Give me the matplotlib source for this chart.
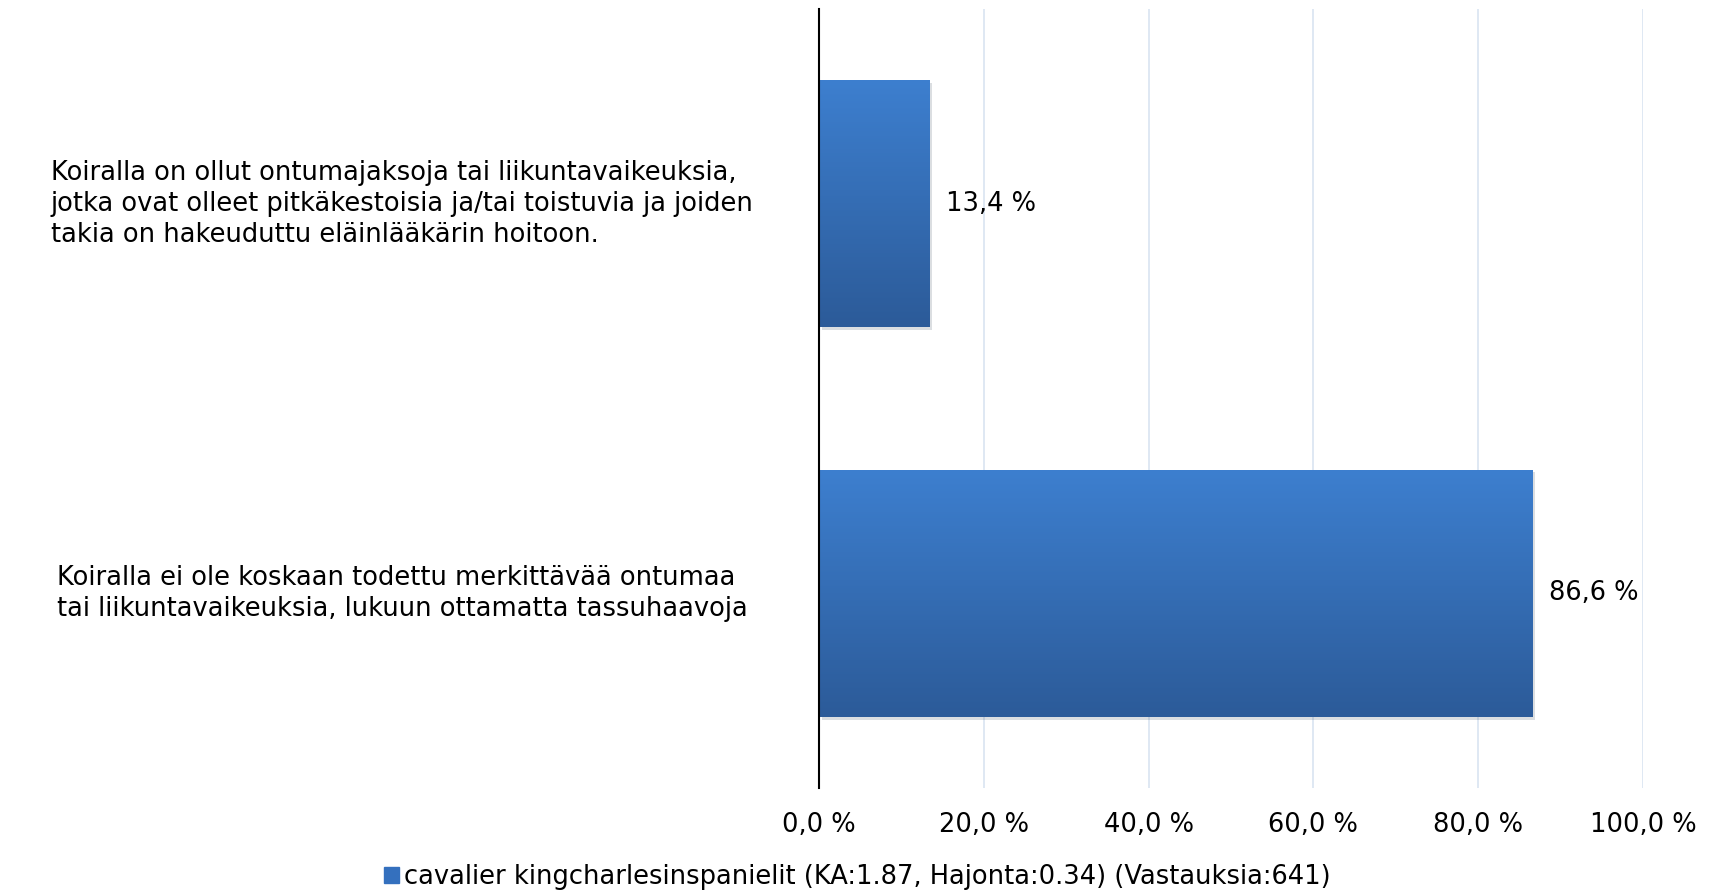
import matplotlib.pyplot as plt
import matplotlib.patheffects as pe
import numpy as np
from matplotlib.colors import LinearSegmentedColormap
from matplotlib.patches import Patch

plt.rcParams['font.family'] = ['DejaVu Sans']

categories = ['Koiralla on ollut ontumajaksoja tai liikuntavaikeuksia,\n'
              'jotka ovat olleet pitkäkestoisia ja/tai toistuvia ja joiden\n'
              'takia on hakeuduttu eläinlääkärin hoitoon.',
              'Koiralla ei ole koskaan todettu merkittävää ontumaa\n'
              'tai liikuntavaikeuksia, lukuun ottamatta tassuhaavoja']
values = [13.4, 86.6]
ticks = [0, 20, 40, 60, 80, 100]
tick_labels = ['0,0 %', '20,0 %', '40,0 %', '60,0 %', '80,0 %', '100,0 %']
series_name = 'cavalier kingcharlesinspanielit (KA:1.87, Hajonta:0.34) (Vastauksia:641)'

fig = plt.figure(figsize=(17.15, 8.93), dpi=100)
ax = fig.add_axes([0.4776, 0.1176, 0.4804, 0.8724])

grad = LinearSegmentedColormap.from_list('g', ['#3d7fcf', '#2c5b99'])
y = np.arange(len(values))
bars = ax.barh(y, values, height=0.635, color='#3470be',
               path_effects=[pe.SimplePatchShadow(offset=(2, -2), alpha=0.15), pe.Normal()],
               zorder=2)
for b in bars:
    x0, y0 = b.get_x(), b.get_y()
    w, h = b.get_width(), b.get_height()
    img = ax.imshow(np.linspace(0, 1, 100).reshape(-1, 1), cmap=grad, aspect='auto',
                    extent=(x0, x0 + w, y0 + h, y0), origin='upper', zorder=3)
    img.set_clip_path(b)

ax.set_xlim(0, 100)
ax.set_ylim(1.5, -0.5)
ax.set_xticks(ticks)
ax.set_xticklabels(tick_labels, fontsize=18.5)
ax.set_yticks([])
ax.tick_params(axis='x', length=0, pad=17)
ax.grid(axis='x', color='#d9e4f1', linewidth=1.2, zorder=0)
ax.set_axisbelow(True)
for s in ['top', 'right', 'bottom']:
    ax.spines[s].set_visible(False)
ax.spines['left'].set_color('black')
ax.spines['left'].set_linewidth(1.5)
ax.spines['left'].set_zorder(5)

for i, v in enumerate(values):
    ax.text(v + 2, i, f'{v:.1f} %'.replace('.', ','), va='center', ha='left', fontsize=18.5)
    ax.text(-0.506, i, categories[i], transform=ax.get_yaxis_transform(),
            ha='center', va='center', multialignment='left', fontsize=18.5, linespacing=1.25)

fig.legend(handles=[Patch(color='#3470be')], labels=[series_name], loc='center',
           bbox_to_anchor=(0.5, 0.018), frameon=False, fontsize=18.5,
           handlelength=0.6, handleheight=0.6, handletextpad=0.2)

fig.savefig('out.png', dpi=100)
